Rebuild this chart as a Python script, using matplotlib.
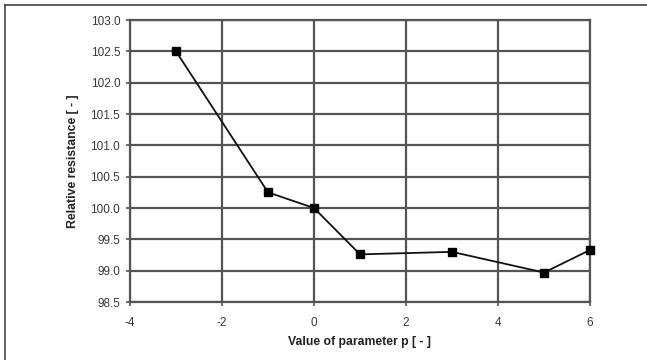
import matplotlib
matplotlib.use("Agg")
import matplotlib.pyplot as plt
from matplotlib.lines import Line2D

plt.rcParams['font.family'] = ['Liberation Sans', 'DejaVu Sans']

p_values = [-3, -1, 0, 1, 3, 5, 6]
resistance = [102.5, 100.25, 100.0, 99.26, 99.30, 98.97, 99.33]
x_ticks = [-4, -2, 0, 2, 4, 6]
y_ticks = [98.5, 99.0, 99.5, 100.0, 100.5, 101.0, 101.5, 102.0, 102.5, 103.0]

fig = plt.figure(figsize=(6.47, 3.6), dpi=100)
fig.patch.set_facecolor('white')

# outer frame lines (top and left)
fig.add_artist(Line2D([4.5 / 647, 1.0], [1 - 4.5 / 360, 1 - 4.5 / 360],
                      transform=fig.transFigure, color='#444444', lw=1.2))
fig.add_artist(Line2D([4.5 / 647, 4.5 / 647], [0.0, 1 - 4.5 / 360],
                      transform=fig.transFigure, color='#444444', lw=1.2))

ax = fig.add_axes([130 / 647, 58 / 360, 460 / 647, 282 / 360])
ax.set_xlim(-4, 6)
ax.set_ylim(98.5, 103.0)
ax.set_xticks(x_ticks)
ax.set_xticklabels([str(t) for t in x_ticks])
ax.set_yticks(y_ticks)
ax.set_yticklabels([f"{t:.1f}" for t in y_ticks])

grid_color = '#555555'
ax.grid(True, color=grid_color, lw=1.6)
ax.set_axisbelow(True)
for s in ax.spines.values():
    s.set_color(grid_color)
    s.set_linewidth(1.6)

ax.tick_params(axis='both', direction='out', length=3, width=1.2,
               color=grid_color, labelsize=8.5, labelcolor='#3a3a3a')
ax.tick_params(axis='x', pad=8)
ax.tick_params(axis='y', pad=4)

ax.plot(p_values, resistance, color='#111111', lw=1.3, marker='s',
        markersize=6, markerfacecolor='#000000', markeredgecolor='#000000',
        zorder=3, clip_on=False)

ax.set_xlabel('Value of parameter p [ - ]', fontsize=8.8, fontweight='bold',
              color='#222222', labelpad=5)
ax.set_ylabel('Relative resistance [ - ]', fontsize=8.8, fontweight='bold',
              color='#222222', labelpad=8)

fig.savefig('out.png', dpi=100, facecolor='white')
